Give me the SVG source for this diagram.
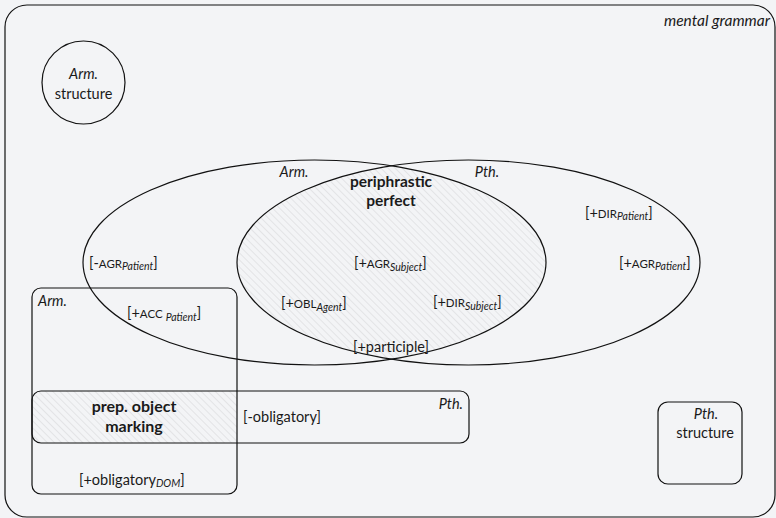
<svg xmlns="http://www.w3.org/2000/svg" width="776" height="518" viewBox="0 0 776 518">
<style>
text{font-family:Lato,"Open Sans","DejaVu Sans",sans-serif;fill:#1a1a1a;font-size:14.5px}
.it{font-style:italic}
.b{font-weight:bold;font-size:16px}
.sc{font-size:11.5px}
.sub{font-style:italic;font-size:10.5px}
.line{fill:none;stroke:#111;stroke-width:1.2}
.m{text-anchor:middle}
.e{text-anchor:end}
</style>
<defs>
<pattern id="hatch" patternUnits="userSpaceOnUse" width="5" height="5" patternTransform="rotate(-45)">
<line x1="0" y1="0" x2="0" y2="5" stroke="#cbccce" stroke-width="0.8"/>
</pattern>
<clipPath id="clipL"><ellipse cx="314.5" cy="262.5" rx="231.5" ry="102.5"/></clipPath>
<clipPath id="clipA"><rect x="32" y="288" width="205" height="206" rx="9"/></clipPath>
</defs>
<rect width="776" height="518" fill="#f3f4f6"/>
<g id="mental-grammar">
<rect class="line" x="5" y="5" width="770" height="512" rx="22"/>
<text class="it e" x="770" y="26" style="font-size:15.5px">mental grammar</text>
</g>
<g id="arm-structure">
<circle class="line" cx="83.5" cy="82.5" r="41.5"/>
<text class="it m" x="83.5" y="79">Arm.</text>
<text class="m" x="83.5" y="98.5">structure</text>
</g>
<g id="periphrastic-perfect">
<ellipse cx="468.5" cy="262.5" rx="231.5" ry="102.5" fill="url(#hatch)" clip-path="url(#clipL)"/>
<ellipse class="line" cx="314.5" cy="262.5" rx="231.5" ry="102.5"/>
<ellipse class="line" cx="468.5" cy="262.5" rx="231.5" ry="102.5"/>
<text class="it m" x="294" y="177">Arm.</text>
<text class="it m" x="487" y="177">Pth.</text>
<text class="b m" x="391" y="187" style="font-size:15.5px">periphrastic</text>
<text class="b m" x="391" y="206" style="font-size:15.5px">perfect</text>
<text x="89" y="268">[-<tspan class="sc">AGR</tspan><tspan class="sub" dy="2">Patient</tspan><tspan dy="-2">]</tspan></text>
<text x="354" y="268">[+<tspan class="sc">AGR</tspan><tspan class="sub" dy="3">Subject</tspan><tspan dy="-3">]</tspan></text>
<text x="281" y="308">[+<tspan class="sc">OBL</tspan><tspan class="sub" dy="3">Agent</tspan><tspan dy="-3">]</tspan></text>
<text x="433" y="307">[+<tspan class="sc">DIR</tspan><tspan class="sub" dy="3">Subject</tspan><tspan dy="-3">]</tspan></text>
<text class="m" x="391" y="352">[+participle]</text>
<text x="585" y="218">[+<tspan class="sc">DIR</tspan><tspan class="sub" dy="2">Patient</tspan><tspan dy="-2">]</tspan></text>
<text x="619" y="268">[+<tspan class="sc">AGR</tspan><tspan class="sub" dy="2">Patient</tspan><tspan dy="-2">]</tspan></text>
</g>
<g id="prep-object-marking">
<rect x="32" y="391" width="437" height="52" rx="9" fill="url(#hatch)" clip-path="url(#clipA)"/>
<rect class="line" x="32" y="288" width="205" height="206" rx="9"/>
<rect class="line" x="32" y="391" width="437" height="52" rx="9"/>
<text class="it" x="38" y="306">Arm.</text>
<text x="127" y="318">[+<tspan class="sc">ACC</tspan><tspan class="sub" dx="3" dy="3">Patient</tspan><tspan dy="-3">]</tspan></text>
<text class="it e" x="463" y="409">Pth.</text>
<text class="b m" x="134" y="412">prep. object</text>
<text class="b m" x="134" y="432">marking</text>
<text x="243" y="422">[-obligatory]</text>
<text x="79" y="485">[+obligatory<tspan class="sub" dy="2">DOM</tspan><tspan dy="-2">]</tspan></text>
</g>
<g id="pth-structure">
<rect class="line" x="658" y="402" width="84" height="82" rx="10"/>
<text class="it m" x="706" y="419">Pth.</text>
<text class="m" x="705" y="438">structure</text>
</g>
<g id="connectors"/>
</svg>
